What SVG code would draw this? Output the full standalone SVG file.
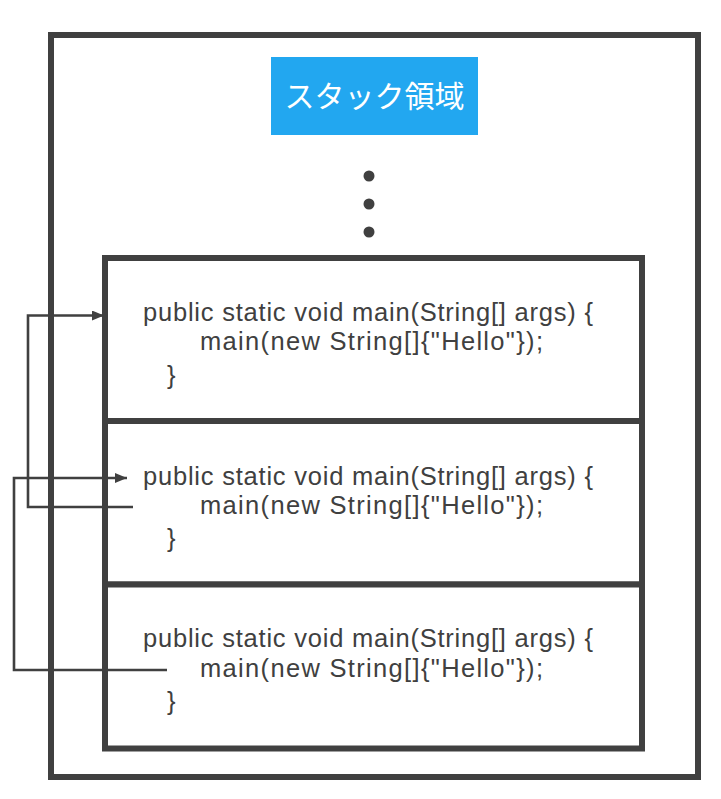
<svg xmlns="http://www.w3.org/2000/svg" width="721" height="799" viewBox="0 0 721 799">
<style>
.frame{fill:none;stroke:#404040;stroke-width:6}
.box{fill:#ffffff;stroke:#404040;stroke-width:6}
.code{font-family:"Liberation Sans",Arial,sans-serif;font-size:25.5px;fill:#404040}
.title{font-family:"Noto Sans CJK JP","Noto Sans",sans-serif;font-size:30px;fill:#ffffff}
.conn{fill:none;stroke:#404040;stroke-width:2.6}
.dot{fill:#404040}
</style>
<defs>
<marker id="arrow" markerUnits="userSpaceOnUse" markerWidth="12" markerHeight="10" refX="12" refY="5" orient="auto">
<path d="M0,0 L12,5 L0,10 z" fill="#404040"/>
</marker>
</defs>
<rect width="721" height="799" fill="#ffffff"/>
<g id="stack-area">
<rect class="frame" x="51" y="35" width="647" height="742"/>
</g>
<g id="title">
<rect x="271" y="57" width="207" height="78" fill="#22A7F0"/>
<text class="title" x="374.5" y="107" text-anchor="middle">スタック領域</text>
</g>
<g id="ellipsis">
<circle class="dot" cx="369" cy="176" r="5.5"/>
<circle class="dot" cx="369" cy="204" r="5.5"/>
<circle class="dot" cx="369" cy="232" r="5.5"/>
</g>
<g id="frame1">
<rect class="box" x="105" y="258" width="537" height="163"/>
<text class="code" x="143" y="321" textLength="450" lengthAdjust="spacing">public static void main(String[] args) {</text>
<text class="code" x="200" y="350" textLength="343" lengthAdjust="spacing">main(new String[]{"Hello"});</text>
<text class="code" x="167" y="384">}</text>
</g>
<g id="frame2">
<rect class="box" x="105" y="421" width="537" height="163.5"/>
<text class="code" x="143" y="485" textLength="450" lengthAdjust="spacing">public static void main(String[] args) {</text>
<text class="code" x="200" y="514" textLength="343" lengthAdjust="spacing">main(new String[]{"Hello"});</text>
<text class="code" x="167" y="547">}</text>
</g>
<g id="frame3">
<rect class="box" x="105" y="584.5" width="537" height="164"/>
<text class="code" x="143" y="647" textLength="450" lengthAdjust="spacing">public static void main(String[] args) {</text>
<text class="code" x="200" y="677" textLength="343" lengthAdjust="spacing">main(new String[]{"Hello"});</text>
<text class="code" x="167" y="710">}</text>
</g>
<g id="connectors">
<path class="conn" d="M133,507 H28 V315.5 H104" marker-end="url(#arrow)"/>
<path class="conn" d="M167,670 H14 V478 H127" marker-end="url(#arrow)"/>
</g>
</svg>
